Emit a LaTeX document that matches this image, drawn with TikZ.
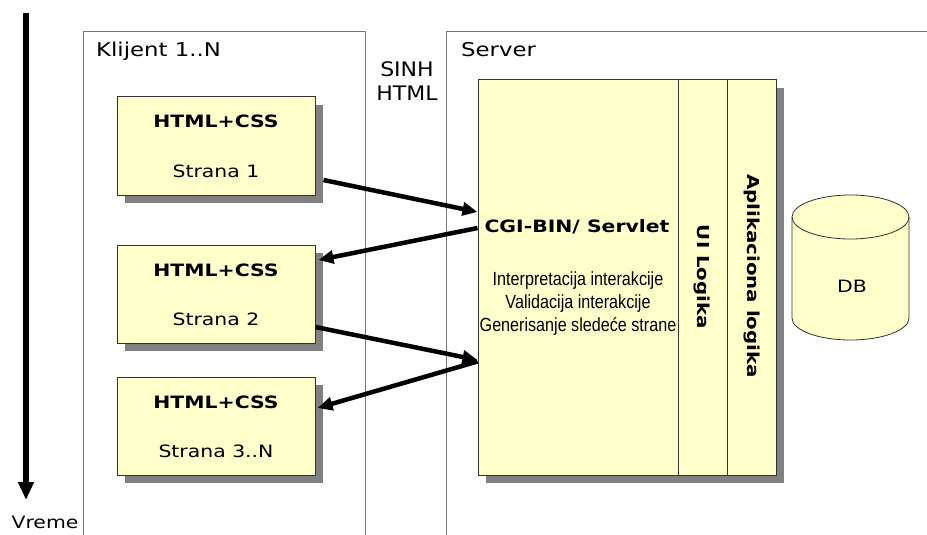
\documentclass[tikz,border=0pt]{standalone}
\usepackage{fontspec}
\setmainfont{DejaVu Sans}
\newfontfamily\widefont[FakeStretch=1.2]{DejaVu Sans}
\newfontfamily\labelfont[FakeStretch=1.1]{DejaVu Sans}
\newfontfamily\narrowfont[FakeStretch=0.85]{Liberation Sans}
\usetikzlibrary{arrows.meta,shadows}

\definecolor{pagefill}{HTML}{FFFFCC}
\definecolor{shadowgray}{HTML}{808080}
\definecolor{framegray}{HTML}{777777}
\definecolor{edgedark}{HTML}{333333}

\tikzset{
  frame/.style={draw=framegray, line width=1.3pt, anchor=north west, inner sep=0pt},
  pagebox/.style={draw=edgedark, line width=1pt, fill=pagefill, inner sep=0pt,
    minimum width=198pt, minimum height=98pt,
    drop shadow={shadow xshift=8pt, shadow yshift=-8pt, fill=shadowgray, opacity=1}},
  column/.style={draw=edgedark, line width=1pt, inner sep=0pt, minimum height=395pt},
  titletext/.style={inner sep=0pt, anchor=base, font=\widefont\fontsize{19}{21}\selectfont},
  sidetext/.style={inner sep=0pt, anchor=base, font=\labelfont\fontsize{20}{22}\selectfont},
  headtext/.style={inner sep=0pt, anchor=base, font=\widefont\bfseries\fontsize{17}{19}\selectfont},
  plaintext/.style={inner sep=0pt, anchor=base, font=\widefont\fontsize{17}{19}\selectfont},
  smalltext/.style={inner sep=0pt, anchor=base, font=\narrowfont\fontsize{19}{21}\selectfont},
  vlabel/.style={inner sep=0pt, rotate=-90, font=\widefont\bfseries\fontsize{16.5}{18}\selectfont},
  conn/.style={line width=4.5pt, -{Triangle[length=15pt,width=13pt]}},
}

\begin{document}
\begin{tikzpicture}[x=1pt,y=-1pt]
\useasboundingbox (0,0) rectangle (927,535);

% time axis
\coordinate (tstart) at (26,13);
\coordinate (tend) at (26,500);
\draw[line width=6pt, -{Triangle[length=18pt,width=15pt]}] (tstart) -- (tend);
\node[plaintext] (vreme) at (45,528) {Vreme};

% client and server areas
\node[frame, minimum width=282pt, minimum height=520pt] (client) at (83,31) {};
\node[frame, minimum width=500pt, minimum height=520pt] (server) at (446,31) {};
\node[titletext, anchor=base west] (clienttitle) at (96,57) {Klijent 1..N};
\node[titletext, anchor=base west] (servertitle) at (461,57) {Server};
\node[sidetext] (sinh) at (407,77) {SINH};
\node[sidetext] (sinhhtml) at (407,100) {HTML};

% client pages
\node[pagebox] (p1) at (216,146) {};
\node[headtext] (p1h) at (216,128) {HTML+CSS};
\node[plaintext] (p1s) at (216,177) {Strana 1};

\node[pagebox] (p2) at (216,294) {};
\node[headtext] (p2h) at (216,276) {HTML+CSS};
\node[plaintext] (p2s) at (216,325) {Strana 2};

\node[pagebox] (p3) at (216,426) {};
\node[headtext] (p3h) at (216,408) {HTML+CSS};
\node[plaintext] (p3s) at (216,457) {Strana 3..N};

% server block with its three columns
\node[pagebox, minimum width=298pt, minimum height=395pt] (srvbox) at (627,277.5) {};
\node[column, minimum width=200pt] (cgi) at (578,277.5) {};
\node[column, minimum width=49pt] (ui) at (702.5,277.5) {};
\node[column, minimum width=49pt] (app) at (751.5,277.5) {};

\node[headtext] (cgititle) at (577,232) {CGI-BIN/ Servlet};
\node[smalltext] (cgiline1) at (578,285) {Interpretacija interakcije};
\node[smalltext] (cgiline2) at (578,308) {Validacija interakcije};
\node[smalltext] (cgiline3) at (578,331) {Generisanje sledeće strane};
\node[vlabel] (uitext) at (702,277) {UI Logika};
\node[vlabel] (apptext) at (752,276) {Aplikaciona logika};

% database
\draw[draw=edgedark, line width=0.8pt, fill=pagefill]
  (792,217) -- (792,318) arc[start angle=180, end angle=0, x radius=58.5, y radius=22]
  -- (909,217) arc[start angle=0, end angle=-180, x radius=58.5, y radius=22] -- cycle;
\draw[draw=edgedark, line width=0.8pt]
  (792,217) arc[start angle=180, end angle=0, x radius=58.5, y radius=22];
\node[plaintext] (db) at (852,292) {DB};

% request/response flow
\draw[conn] ([xshift=8pt,yshift=-34pt]p1.east) -- ([yshift=65.5pt]cgi.west);
\draw[conn] ([yshift=49.5pt]cgi.west) -- ([xshift=3pt,yshift=34pt]p2.east);
\draw[conn] ([yshift=-33pt]p2.east) -- ([yshift=-82.5pt]cgi.west);
\draw[conn] ([yshift=-84pt]cgi.west) -- ([xshift=2pt,yshift=18pt]p3.east);
\end{tikzpicture}
\end{document}
